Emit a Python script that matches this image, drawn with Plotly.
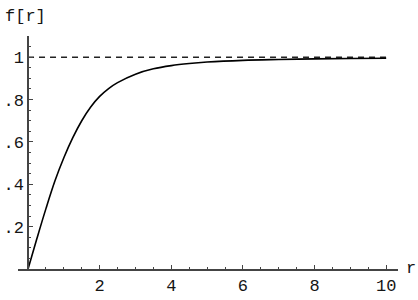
import plotly.graph_objects as go

# curve values
r_vals = [0, 0.1, 0.25, 0.5, 0.75, 1.0, 1.25, 1.5, 1.75, 2.0, 2.25, 2.5, 3.0, 3.5, 4.0, 4.5, 5.0, 6.0, 7.0, 8.0, 9.0, 10.0]
f_vals = [0, 0.058, 0.145, 0.285, 0.415, 0.525, 0.62, 0.70, 0.765, 0.815, 0.852, 0.880, 0.920, 0.945, 0.960, 0.970, 0.977, 0.985, 0.989, 0.992, 0.994, 0.995]
asym_r = [0, 10]
asym_f = [1, 1]
x_ticks = [2, 4, 6, 8, 10]
x_labels = ["2", "4", "6", "8", "10"]
y_ticks = [0.2, 0.4, 0.6, 0.8, 1.0]
y_labels = [".2", ".4", ".6", ".8", "1"]

W, H = 418, 300
FONT = "Liberation Mono"
TXT = "#151515"

fig = go.Figure()
fig.add_trace(go.Scatter(x=asym_r, y=asym_f, mode="lines",
                         line=dict(color="#222222", width=1.4, dash="6px,5px"),
                         hoverinfo="skip"))
fig.add_trace(go.Scatter(x=r_vals, y=f_vals, mode="lines", line_shape="spline",
                         line=dict(color="black", width=1.6), hoverinfo="skip"))

fig.update_layout(
    width=W, height=H, margin=dict(l=0, r=0, t=0, b=0),
    paper_bgcolor="white", plot_bgcolor="white", showlegend=False,
    font=dict(family=FONT, size=17, color=TXT),
    xaxis=dict(domain=[18 / W, 398 / W], range=[-0.28, 10.33], anchor="y",
               showgrid=False, zeroline=False, showline=True, linecolor="#444444", linewidth=1.5,
               tickmode="array", tickvals=x_ticks, ticktext=x_labels,
               ticks="inside", ticklen=4, tickwidth=1, tickcolor="#444444",
               minor=dict(dtick=0.5, tick0=0, ticks="inside", ticklen=2, tickcolor="#444444", showgrid=False),
               tickfont=dict(family=FONT, size=17, color=TXT)),
    yaxis=dict(domain=[(H - 269) / H, (H - 36) / H], range=[0, 1.1], anchor="free", position=28 / W,
               showgrid=False, zeroline=False, showline=True, linecolor="#444444", linewidth=1.5,
               tickmode="array", tickvals=y_ticks, ticktext=y_labels,
               ticks="inside", ticklen=4, tickwidth=1, tickcolor="#444444",
               minor=dict(dtick=0.05, tick0=0, ticks="inside", ticklen=2, tickcolor="#444444", showgrid=False),
               tickfont=dict(family=FONT, size=17, color=TXT)),
)

fig.add_annotation(text="f[r]", xref="paper", yref="paper", x=3 / W, y=(H - 17) / H,
                   xanchor="left", yanchor="middle", showarrow=False,
                   font=dict(family=FONT, size=17, color=TXT))
fig.add_annotation(text="r", xref="paper", yref="paper", x=404 / W, y=(H - 268) / H,
                   xanchor="left", yanchor="middle", showarrow=False,
                   font=dict(family=FONT, size=17, color=TXT))

fig.write_html("out.html")
